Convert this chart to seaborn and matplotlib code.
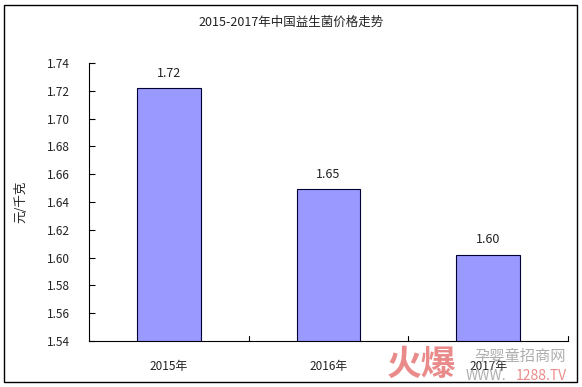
import numpy as np
import pandas as pd
import matplotlib
matplotlib.use("Agg")
import matplotlib.pyplot as plt
import seaborn as sns
from matplotlib.patches import Rectangle

years = ["2015年", "2016年", "2017年"]
prices = [1.722, 1.649, 1.602]
labels = ["1.72", "1.65", "1.60"]
yticks = [1.54, 1.56, 1.58, 1.60, 1.62, 1.64, 1.66, 1.68, 1.70, 1.72, 1.74]

sns.set_theme(style="white")
plt.rcParams['font.family'] = ['Noto Sans CJK SC', 'DejaVu Sans']

df = pd.DataFrame({"year": years, "price": prices})

fig = plt.figure(figsize=(5.82, 3.87), dpi=100)
fig.patch.set_facecolor('white')
ax = fig.add_axes([89 / 582, 1 - 341 / 387, (568 - 89) / 582, (341 - 63) / 387])

sns.barplot(data=df, x="year", y="price", ax=ax, color='#9999FF', width=0.4,
            edgecolor='#000033', linewidth=0.8, saturation=1)

ax.set_ylim(1.54, 1.74)
ax.set_xlim(-0.5, 2.5)
ax.set_yticks(yticks)
ax.set_yticklabels([f"{t:.2f}" for t in yticks], fontsize=8.5, color='#222222')
ax.set_xlabel("")
ax.set_ylabel("元/千克", fontsize=9, color='#222222', va='center')
ax.yaxis.set_label_coords(-0.143, 0.5)
ax.tick_params(axis='y', direction='in', length=4, width=0.8, color='black', pad=14, left=True)
ax.tick_params(axis='x', bottom=False, labelsize=8.5, labelcolor='#222222', pad=8)
for b in [0.5, 1.5, 2.5]:
    ax.plot([b, b], [1.54, 1.5435], color='black', lw=0.8, clip_on=False)

for s in ['top', 'right']:
    ax.spines[s].set_visible(False)
for s in ['left', 'bottom']:
    ax.spines[s].set_color('black')
    ax.spines[s].set_linewidth(0.8)

for i, (v, lab) in enumerate(zip(prices, labels)):
    ax.text(i, v + 0.006, lab, ha='center', va='bottom', fontsize=9, color='#222222')

fig.text(0.5, 1 - 22 / 387, "2015-2017年中国益生菌价格走势", ha='center', va='center',
         fontsize=9, color='#222222')

fig.patches.append(Rectangle((4 / 582, 1 - 382 / 387), 573 / 582, 377 / 387,
                             transform=fig.transFigure, fill=False, edgecolor='black', lw=1))

# watermark
fig.text(422 / 582, 1 - 364 / 387, "火爆", ha='center', va='center', fontsize=25,
         fontweight='bold', color='#e87f7f', alpha=0.9)
fig.text(520 / 582, 1 - 356 / 387, "孕婴童招商网", ha='center', va='center', fontsize=11,
         color='#9a9a9a', alpha=0.8)
fig.text(466 / 582, 1 - 376 / 387, "WWW.", ha='left', va='center', fontsize=10,
         color='#9a9a9a', alpha=0.8)
fig.text(516 / 582, 1 - 376 / 387, "1288.TV", ha='left', va='center', fontsize=10,
         color='#e87f7f', alpha=0.9)

fig.savefig("out.png", dpi=100)
